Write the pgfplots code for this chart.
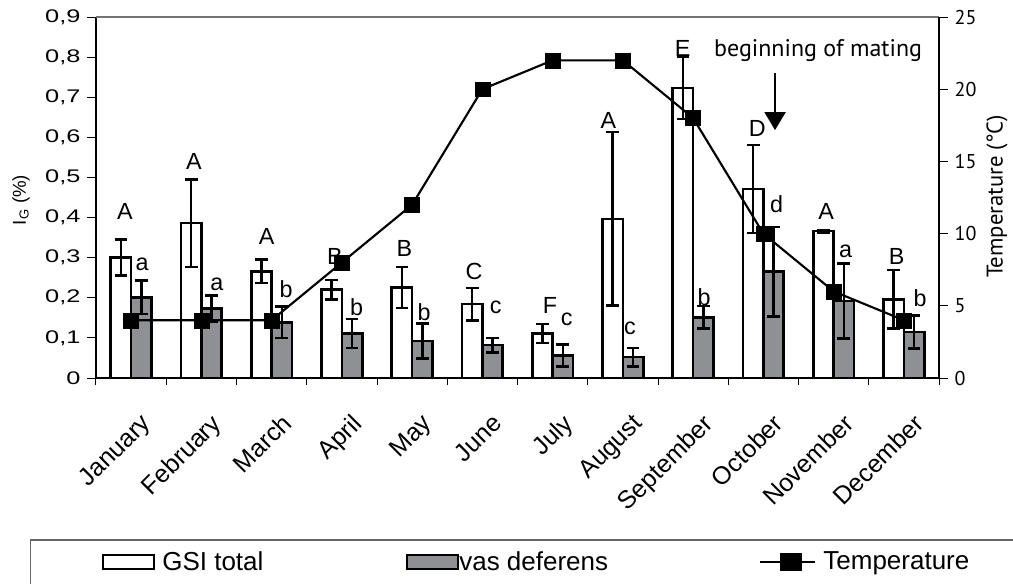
\documentclass[border=0pt]{standalone}
\usepackage{pgfplots}
\pgfplotsset{compat=1.18}
\usepackage{pgfplotstable}
\usepackage{fontspec}
\setmainfont{Liberation Sans}
\newfontfamily\ptsans{PT Sans}
\usetikzlibrary{arrows.meta}
\definecolor{vasgray}{RGB}{142,144,148}
\newcommand{\sq}[1]{\scalebox{1}[0.72]{#1}}

\pgfplotstableread{
x y e
0 0.300 0.045
1 0.386 0.109
2 0.266 0.029
3 0.220 0.024
4 0.226 0.051
5 0.184 0.040
6 0.111 0.024
7 0.397 0.216
8 0.723 0.077
9 0.471 0.110
10 0.366 0.003
11 0.196 0.073
}\gsi

\pgfplotstableread{
x y e
0 0.201 0.042
1 0.173 0.033
2 0.139 0.039
3 0.111 0.036
4 0.092 0.044
5 0.082 0.018
6 0.056 0.027
7 0.052 0.023
8 0.151 0.028
9 0.265 0.111
10 0.192 0.094
11 0.115 0.041
}\vas

\pgfplotstableread{
x t
0 4
1 4
2 4
3 8
4 12
5 20
6 22
7 22
8 18
9 10
10 6
11 4
}\temp

\begin{document}
\begin{tikzpicture}
\path[use as bounding box] (-72pt,-153.75pt) rectangle (687.75pt,283.5pt);
\clip (-72pt,-153.75pt) rectangle (687.75pt,283.5pt);
\draw[black!60, line width=0.9pt] (-48.98pt,-121.5pt) rectangle (720pt,-200pt);

\begin{axis}[
  at={(0pt,0pt)}, anchor=south west,
  scale only axis, width=632.25pt, height=270.75pt,
  xmin=-0.5, xmax=11.5, ymin=0, ymax=0.9,
  axis x line*=bottom, axis y line*=left,
  axis line style={line width=0.9pt, -},
  tick align=outside,
  tick style={black, line width=0.75pt},
  major tick length=6.5pt, minor tick length=5.25pt,
  xtick={0,...,11},
  xticklabels={January,February,March,April,May,June,July,August,September,October,November,December},
  major x tick style={draw=none},
  minor xtick={-0.5,0.5,...,11.5},
  xticklabel style={font=\fontsize{18.75}{22}\selectfont, rotate=45, anchor=north east, inner sep=0pt, xshift=-9pt, yshift=-18pt},
  ytick={0,0.1,0.2,0.3,0.4,0.5,0.6,0.7,0.8,0.9},
  yticklabels={\sq{0},\sq{0,1},\sq{0,2},\sq{0,3},\sq{0,4},\sq{0,5},\sq{0,6},\sq{0,7},\sq{0,8},\sq{0,9}},
  yticklabel style={font=\fontsize{19}{22}\selectfont, inner sep=0pt, anchor=east},
  yticklabel shift=5pt,
  ylabel={I\textsubscript{G} (\%)},
  every axis y label/.style={at={(axis description cs:-0.089,0.493)}, rotate=90, anchor=center, font=\fontsize{14}{17}\selectfont},
  ybar, bar width=0.29,
  clip=false,
]
\addplot[ybar, bar shift=-0.145, fill=white, draw=black, line width=1.9pt,
  error bars/.cd, y dir=both, y explicit,
  error bar style={line width=1.9pt, black},
  error mark options={rotate=90, mark size=4.75pt, line width=1.9pt, black}]
  table[x=x, y=y, y error=e] {\gsi};
\addplot[ybar, bar shift=0.145, fill=vasgray, draw=black, line width=1.9pt,
  error bars/.cd, y dir=both, y explicit,
  error bar style={line width=1.9pt, black},
  error mark options={rotate=90, mark size=4.75pt, line width=1.9pt, black}]
  table[x=x, y=y, y error=e] {\vas};
\draw[black!55, line width=0.9pt] (rel axis cs:0,1) -- (rel axis cs:1,1);
\begin{scope}[every node/.style={font=\fontsize{17.5}{20}\selectfont, inner sep=0pt}]
\node at (axis cs:-0.087,0.414) {A};
\node at (axis cs:0.155,0.284) {a};
\node at (axis cs:0.895,0.539) {A};
\node at (axis cs:1.219,0.233) {a};
\node at (axis cs:1.930,0.352) {A};
\node at (axis cs:2.205,0.221) {b};
\node at (axis cs:2.902,0.302) {B};
\node at (axis cs:3.211,0.177) {b};
\node at (axis cs:3.890,0.323) {B};
\node at (axis cs:4.169,0.165) {b};
\node at (axis cs:4.881,0.266) {C};
\node at (axis cs:5.190,0.177) {c};
\node at (axis cs:5.963,0.180) {F};
\node at (axis cs:6.201,0.147) {c};
\node at (axis cs:6.793,0.643) {A};
\node at (axis cs:7.102,0.125) {c};
\node at (axis cs:7.852,0.822) {E};
\node at (axis cs:8.155,0.202) {b};
\node at (axis cs:8.914,0.623) {D};
\node at (axis cs:9.190,0.433) {d};
\node at (axis cs:9.892,0.414) {A};
\node at (axis cs:10.172,0.315) {a};
\node at (axis cs:10.898,0.304) {B};
\node at (axis cs:11.230,0.200) {b};
\end{scope}
\node[font=\ptsans\fontsize{18}{21}\selectfont] at (axis cs:9.779,0.816) {beginning of mating};
\draw[line width=1.5pt, -{Triangle[width=15.75pt,length=13.5pt]}] (axis cs:9.166,0.760) -- (axis cs:9.166,0.618);
\end{axis}

\begin{axis}[
  at={(0pt,0pt)}, anchor=south west,
  scale only axis, width=632.25pt, height=270.75pt,
  xmin=-0.5, xmax=11.5, ymin=0, ymax=25,
  axis x line=none, axis y line*=right,
  axis line style={line width=0.9pt, -},
  tick align=outside,
  tick style={black, line width=0.75pt},
  major tick length=6.5pt,
  ytick={0,5,10,15,20,25},
  yticklabels={0,5,10,15,20,25},
  yticklabel style={font=\ptsans\fontsize{15}{18}\selectfont, inner sep=0pt, anchor=west},
  yticklabel shift=5pt,
  ylabel={Temperature (°C)},
  every axis y label/.style={at={(axis description cs:1.0688,0.503)}, rotate=90, anchor=center, font=\ptsans\fontsize{17}{20}\selectfont},
  clip=false,
  legend style={at={(axis description cs:0.00676,-0.5097)}, anchor=west, draw=none, fill=none, inner sep=0pt, outer sep=0pt, column sep=0pt, font=\fontsize{19.5}{23}\selectfont, nodes={inner sep=0pt}},
  legend columns=3,
  legend cell align=left,
]
\addlegendimage{legend image code/.code={\draw[black,line width=1.5pt,fill=white] (0pt,-5.6pt) rectangle (38.7pt,5.6pt); \path (44.5pt,0pt);}}
\addlegendentry{\makebox[183pt][l]{GSI total}}
\addlegendimage{legend image code/.code={\draw[black,line width=1.5pt,fill=vasgray] (0pt,-5.6pt) rectangle (38.25pt,5.6pt); \path (38.6pt,0pt);}}
\addlegendentry{\makebox[225pt][l]{vas deferens}}
\addplot[black, line width=1.6pt, mark=square*, mark size=5.6pt, mark options={line width=0.3pt},
  legend image code/.code={\draw[black,line width=1.5pt] (0pt,0pt) -- (41.25pt,0pt); \fill[black] (15.75pt,-5.6pt) rectangle (30.5pt,5.6pt); \path (46.5pt,0pt);}]
  table[x=x, y=t] {\temp};
\addlegendentry{Temperature}
\end{axis}
\end{tikzpicture}
\end{document}
